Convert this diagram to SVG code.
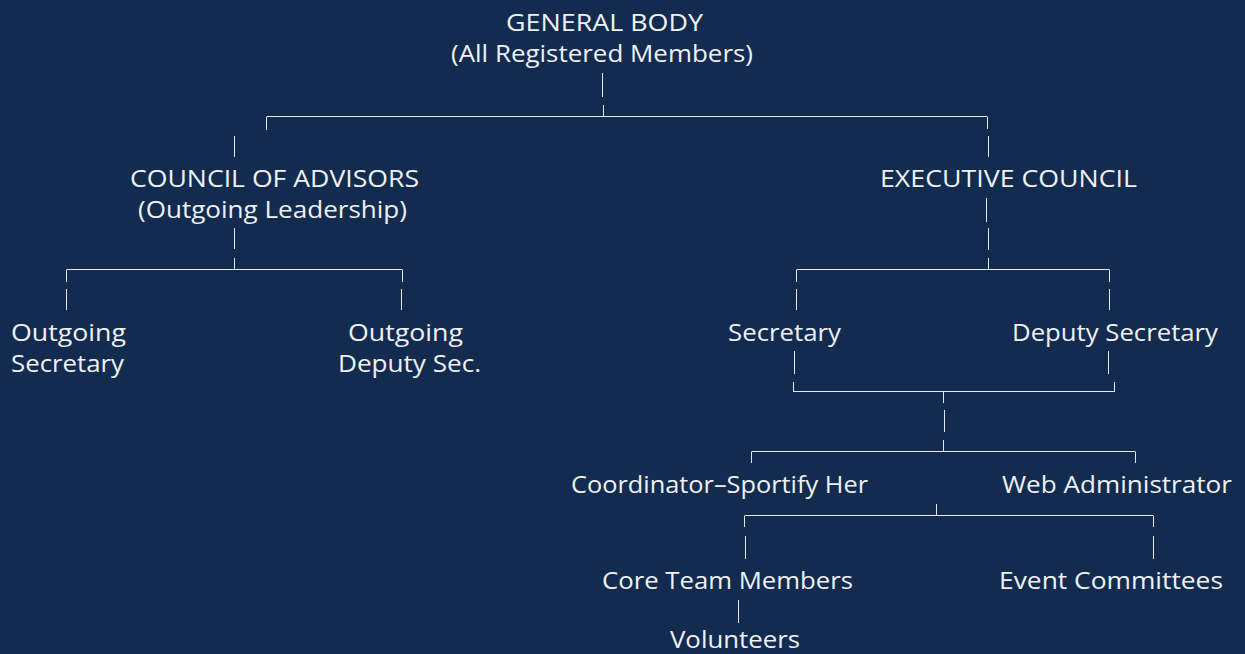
<svg xmlns="http://www.w3.org/2000/svg" width="1245" height="654" viewBox="0 0 1245 654">
<style>
  .t { font-family: "Open Sans", "Noto Sans", "Liberation Sans", sans-serif; font-size: 23px; fill: #eef1f6; }
  .c line { stroke: #e4e9f0; stroke-width: 1; fill: none; }
</style>
<rect width="1245" height="654" fill="#132b4e"/>
<g id="connectors" class="c">
  <line x1="602.5" y1="73" x2="602.5" y2="97"/>
  <line x1="603.5" y1="105" x2="603.5" y2="117"/>
  <line x1="266.5" y1="116.5" x2="987.5" y2="116.5"/>
  <line x1="266.5" y1="117" x2="266.5" y2="130"/>
  <line x1="987.5" y1="117" x2="987.5" y2="129"/>
  <line x1="234.5" y1="136" x2="234.5" y2="157"/>
  <line x1="988.5" y1="136" x2="988.5" y2="157"/>
  <line x1="234.5" y1="228" x2="234.5" y2="249"/>
  <line x1="234.5" y1="258" x2="234.5" y2="270"/>
  <line x1="66.5" y1="269.5" x2="402.5" y2="269.5"/>
  <line x1="66.5" y1="270" x2="66.5" y2="282"/>
  <line x1="402.5" y1="270" x2="402.5" y2="282"/>
  <line x1="66.5" y1="289" x2="66.5" y2="310"/>
  <line x1="401.5" y1="289" x2="401.5" y2="310"/>
  <line x1="986.5" y1="198" x2="986.5" y2="222"/>
  <line x1="988.5" y1="228" x2="988.5" y2="250"/>
  <line x1="988.5" y1="258" x2="988.5" y2="270"/>
  <line x1="796.5" y1="269.5" x2="1109.5" y2="269.5"/>
  <line x1="796.5" y1="270" x2="796.5" y2="282"/>
  <line x1="1109.5" y1="270" x2="1109.5" y2="282"/>
  <line x1="796.5" y1="289" x2="796.5" y2="310"/>
  <line x1="1109.5" y1="289" x2="1109.5" y2="310"/>
  <line x1="794.5" y1="351" x2="794.5" y2="374"/>
  <line x1="1108.5" y1="351" x2="1108.5" y2="374"/>
  <line x1="793.5" y1="382" x2="793.5" y2="392"/>
  <line x1="1114.5" y1="382" x2="1114.5" y2="392"/>
  <line x1="793.5" y1="391.5" x2="1114.5" y2="391.5"/>
  <line x1="943.5" y1="392" x2="943.5" y2="403"/>
  <line x1="944.5" y1="410" x2="944.5" y2="432"/>
  <line x1="943.5" y1="440" x2="943.5" y2="452"/>
  <line x1="751.5" y1="451.5" x2="1135.5" y2="451.5"/>
  <line x1="751.5" y1="452" x2="751.5" y2="463"/>
  <line x1="1135.5" y1="452" x2="1135.5" y2="463"/>
  <line x1="936.5" y1="504" x2="936.5" y2="516"/>
  <line x1="744.5" y1="515.5" x2="1153.5" y2="515.5"/>
  <line x1="744.5" y1="516" x2="744.5" y2="527"/>
  <line x1="1153.5" y1="516" x2="1153.5" y2="527"/>
  <line x1="745.5" y1="536" x2="745.5" y2="559"/>
  <line x1="1153.5" y1="536" x2="1153.5" y2="559"/>
  <line x1="738.5" y1="600" x2="738.5" y2="623"/>
</g>
<g id="general-body">
  <text class="t" x="506" y="31" textLength="197" lengthAdjust="spacingAndGlyphs">GENERAL BODY</text>
  <text class="t" x="451" y="62" textLength="302" lengthAdjust="spacingAndGlyphs">(All Registered Members)</text>
</g>
<g id="council-of-advisors">
  <text class="t" x="130" y="187" textLength="289" lengthAdjust="spacingAndGlyphs">COUNCIL OF ADVISORS</text>
  <text class="t" x="138" y="218" textLength="269" lengthAdjust="spacingAndGlyphs">(Outgoing Leadership)</text>
</g>
<g id="executive-council">
  <text class="t" x="880" y="187" textLength="257" lengthAdjust="spacingAndGlyphs">EXECUTIVE COUNCIL</text>
</g>
<g id="outgoing-secretary">
  <text class="t" x="11" y="341" textLength="115" lengthAdjust="spacingAndGlyphs">Outgoing</text>
  <text class="t" x="11" y="372" textLength="113" lengthAdjust="spacingAndGlyphs">Secretary</text>
</g>
<g id="outgoing-deputy">
  <text class="t" x="348" y="341" textLength="115" lengthAdjust="spacingAndGlyphs">Outgoing</text>
  <text class="t" x="338" y="372" textLength="143" lengthAdjust="spacingAndGlyphs">Deputy Sec.</text>
</g>
<g id="secretary">
  <text class="t" x="728" y="341" textLength="113" lengthAdjust="spacingAndGlyphs">Secretary</text>
</g>
<g id="deputy-secretary">
  <text class="t" x="1012" y="341" textLength="206" lengthAdjust="spacingAndGlyphs">Deputy Secretary</text>
</g>
<g id="coordinator">
  <text class="t" x="571" y="493" textLength="297" lengthAdjust="spacingAndGlyphs">Coordinator–Sportify Her</text>
</g>
<g id="web-administrator">
  <text class="t" x="1002" y="493" textLength="230" lengthAdjust="spacingAndGlyphs">Web Administrator</text>
</g>
<g id="core-team">
  <text class="t" x="602" y="589" textLength="251" lengthAdjust="spacingAndGlyphs">Core Team Members</text>
</g>
<g id="event-committees">
  <text class="t" x="999" y="589" textLength="224" lengthAdjust="spacingAndGlyphs">Event Committees</text>
</g>
<g id="volunteers">
  <text class="t" x="670" y="648" textLength="130" lengthAdjust="spacingAndGlyphs">Volunteers</text>
</g>
</svg>
